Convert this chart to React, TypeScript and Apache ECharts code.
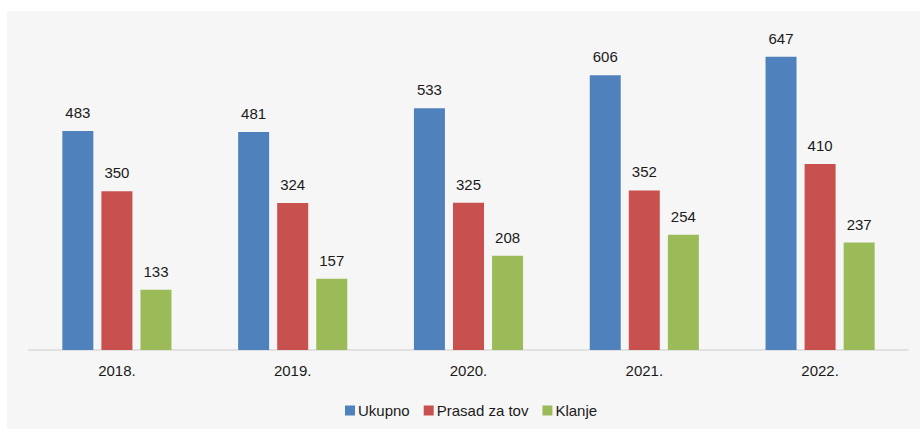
import React, { useEffect, useRef } from "react";
import * as echarts from "echarts";

const categories = ["2018.", "2019.", "2020.", "2021.", "2022."];
const seriesNames = ["Ukupno", "Prasad za tov", "Klanje"];
const ukupno = [483, 481, 533, 606, 647];
const prasad = [350, 324, 325, 352, 410];
const klanje = [133, 157, 208, 254, 237];
const colors = ["#4F81BD", "#C8504E", "#9BBB59"];

export default function App() {
  const ref = useRef<HTMLDivElement>(null);
  useEffect(() => {
    if (!ref.current) return;
    const chart = echarts.init(ref.current, undefined, { renderer: "svg" });
    const font = "'Liberation Sans', Arial, sans-serif";
    const label = {
      show: true,
      position: "top" as const,
      distance: 11,
      color: "#1a1a1a",
      fontSize: 15,
      fontFamily: font,
    };
    const datas = [ukupno, prasad, klanje];
    chart.setOption({
      animation: false,
      backgroundColor: "#F6F6F6",
      color: colors,
      grid: { left: 22, right: 12, top: 21.6, bottom: 79, containLabel: false },
      legend: {
        left: 333,
        top: 387,
        itemWidth: 10,
        itemHeight: 10,
        itemGap: 14,
        icon: "rect",
        textStyle: {
          fontSize: 15,
          fontFamily: font,
          color: "#1a1a1a",
          padding: [0, 0, 0, -2],
        },
        data: seriesNames,
      },
      xAxis: {
        type: "category",
        data: categories,
        axisLine: { show: true, lineStyle: { color: "#DADADA", width: 1.5 } },
        axisTick: { show: false },
        axisLabel: {
          fontSize: 15,
          fontFamily: font,
          color: "#1a1a1a",
          margin: 13,
        },
      },
      yAxis: {
        type: "value",
        min: 0,
        max: 700,
        show: false,
        splitLine: { show: false },
      },
      series: seriesNames.map((name, i) => ({
        name,
        type: "bar",
        data: datas[i],
        barWidth: 31,
        barGap: "26%",
        label,
        itemStyle: { color: colors[i] },
      })),
    });
    return () => chart.dispose();
  }, []);
  return (
    <div
      style={{
        position: "fixed",
        left: 0,
        top: 0,
        width: 920,
        height: 429,
        background: "#ffffff",
      }}
    >
      <div
        ref={ref}
        style={{ position: "absolute", left: 7, top: 11, width: 913, height: 418 }}
      />
    </div>
  );
}
